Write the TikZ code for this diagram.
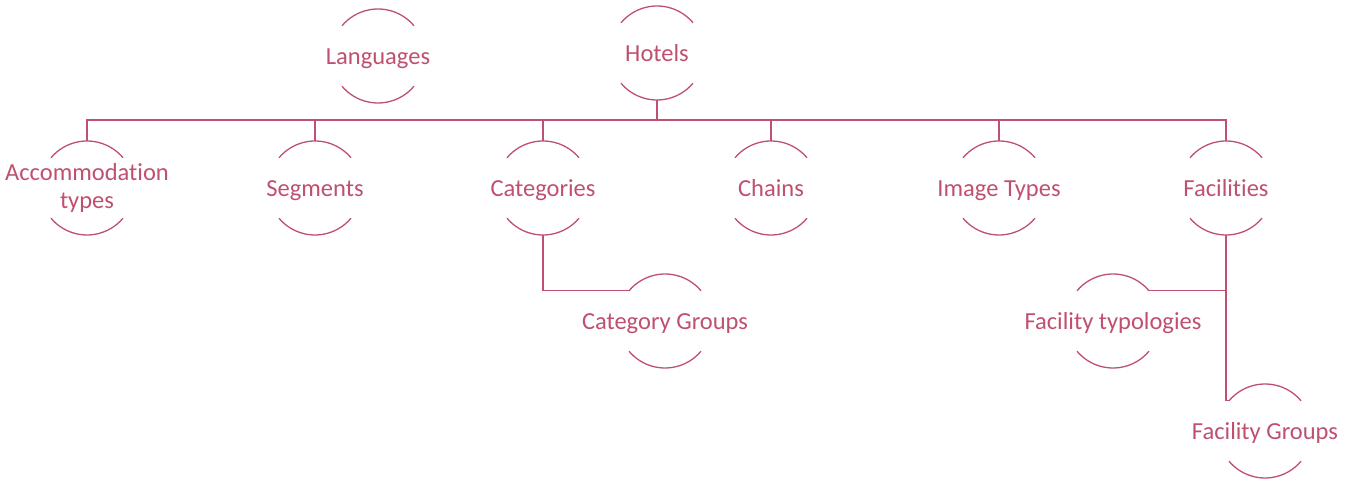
\documentclass[tikz,border=0pt]{standalone}
\usepackage{fontspec}
\setmainfont{Carlito}[Ligatures=NoCommon]
\definecolor{rose}{RGB}{192,80,111}
\begin{document}
\begin{tikzpicture}[x=1pt,y=1pt,
  ring/.style={circle,draw=none,minimum size=94pt,inner sep=0pt,outer sep=0pt},
  txt/.style={text=rose,font=\fontsize{24.5}{28}\selectfont,align=center,inner sep=0pt},
  btxt/.style={txt,anchor=base,yshift=-8.5pt},
  conn/.style={draw=rose,line width=1.3pt},
  arcs/.style={draw=rose,line width=1.3pt}]
\useasboundingbox (0,0) rectangle (1354,495);
\fill[white] (0,0) rectangle (1354,495);
% rings
\node[ring] (lan) at (378,439) {};
\node[ring] (hot) at (657,442) {};
\node[ring] (acc) at (87,307) {};
\node[ring] (seg) at (315,307) {};
\node[ring] (cat) at (543,307) {};
\node[ring] (cha) at (771,307) {};
\node[ring] (img) at (999,307) {};
\node[ring] (fac) at (1226,307) {};
\node[ring] (cgr) at (665,174) {};
\node[ring] (fty) at (1113,174) {};
\node[ring] (fgr) at (1265,64) {};
% arcs
\foreach \n in {lan,hot,acc,seg,cat,cha,img,fac,cgr,fty,fgr}{
  \draw[arcs] (\n.40) arc[start angle=40,end angle=140,radius=47];
  \draw[arcs] (\n.220) arc[start angle=220,end angle=320,radius=47];
}
% labels
\node[btxt] (tlan) at (lan) {Languages};
\node[btxt] (thot) at (hot) {Hotels};
\node[txt] (tacc) at (acc) {Accommodation\\types};
\node[btxt] (tseg) at (seg) {Segments};
\node[btxt] (tcat) at (cat) {Categories};
\node[btxt] (tcha) at (cha) {Chains};
\node[btxt] (timg) at (img) {Image Types};
\node[btxt] (tfac) at (fac) {Facilities};
\node[btxt] (tcgr) at (cgr) {Category Groups};
\node[btxt] (tfty) at (fty) {Facility typologies};
\node[btxt] (tfgr) at (fgr) {Facility Groups};
% connectors
\coordinate (bus) at (0,375);
\draw[conn] (acc.north) -- (acc.north |- bus) -| (fac.north);
\draw[conn] (hot.south) -- (hot.south |- bus);
\foreach \n in {seg,cat,cha,img}{
  \draw[conn] (\n.north) -- (\n.north |- bus);
}
\draw[conn] (cat.south) |- (cgr.140);
\draw[conn] (fac.south) |- (fty.40);
\draw[conn] (fac.south) -- (fac.south |- fgr.140) -- (fgr.140);
\end{tikzpicture}
\end{document}
